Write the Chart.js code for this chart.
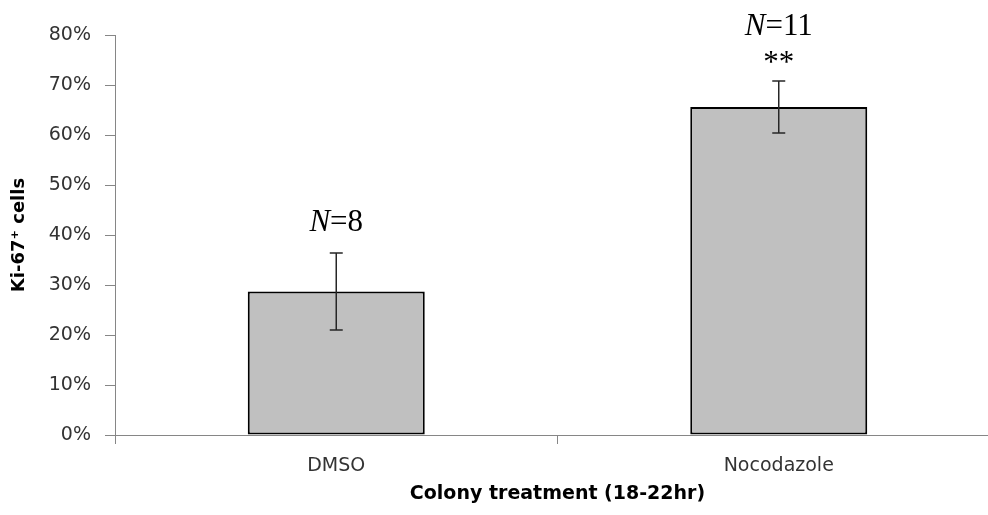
<!DOCTYPE html>
<html>
<head>
<meta charset="utf-8">
<script src="https://cdn.jsdelivr.net/npm/chart.js@4"></script>
<style>
    html, body { margin: 0; padding: 0; background: #fff; overflow: hidden; }
    #wrap { width: 1000px; height: 515px; }
</style>
</head>
<body>
<div id="wrap"><canvas id="kiChart"></canvas></div>
<script>
// Ki-67+ cells per colony treatment
const categorias = ['DMSO', 'Nocodazole'];
const medias = [28.7, 65.6];
const errores = [7.7, 5.2];
const nMuestras = ['8', '11'];
const signif = ['', '**'];
const ticksY = [0, 10, 20, 30, 40, 50, 60, 70, 80];

const ejeColor = '#868686';

// dibuja barras de error y las etiquetas N= / ** encima
const errorBarsPlugin = {
    id: 'errorBars',
    afterDatasetsDraw(chart) {
        const ctx = chart.ctx;
        const y = chart.scales.y;
        const meta = chart.getDatasetMeta(0);
        ctx.save();
        meta.data.forEach((bar, i) => {
            const x = bar.x;
            const yHi = y.getPixelForValue(medias[i] + errores[i]);
            const yLo = y.getPixelForValue(medias[i] - errores[i]);
            ctx.strokeStyle = '#262626';
            ctx.lineWidth = 1.5;
            ctx.beginPath();
            ctx.moveTo(x, yHi); ctx.lineTo(x, yLo);
            ctx.moveTo(x - 6.5, yHi); ctx.lineTo(x + 6.5, yHi);
            ctx.moveTo(x - 6.5, yLo); ctx.lineTo(x + 6.5, yLo);
            ctx.stroke();

            ctx.fillStyle = '#000';
            ctx.textBaseline = 'middle';
            let nY = yHi - 30;
            if (signif[i]) {
                ctx.font = '31px "Liberation Serif"';
                ctx.textAlign = 'center';
                ctx.fillText(signif[i], x, yHi - 17);
                nY = yHi - 54;
            }
            // "N" en cursiva, "=n" normal
            ctx.font = 'italic 31px "Liberation Serif"';
            const wN = ctx.measureText('N').width;
            ctx.font = '31px "Liberation Serif"';
            const resto = '=' + nMuestras[i];
            const wR = ctx.measureText(resto).width;
            const x0 = x - (wN + wR) / 2;
            ctx.textAlign = 'left';
            ctx.font = 'italic 31px "Liberation Serif"';
            ctx.fillText('N', x0, nY);
            ctx.font = '31px "Liberation Serif"';
            ctx.fillText(resto, x0 + wN, nY);
        });
        ctx.restore();
    }
};

const ctx = document.getElementById('kiChart').getContext('2d');
new Chart(ctx, {
    type: 'bar',
    data: {
        labels: categorias,
        datasets: [{
            data: medias,
            backgroundColor: '#c0c0c0',
            borderColor: '#000000',
            borderWidth: 2,
            borderSkipped: false,
            barPercentage: 0.4,
            categoryPercentage: 1.0
        }]
    },
    options: {
        responsive: true,
        maintainAspectRatio: false,
        animation: false,
        devicePixelRatio: 1,
        layout: { padding: { top: 35, right: 0, bottom: 0, left: 0 } },
        plugins: {
            legend: { display: false },
            tooltip: { enabled: false }
        },
        scales: {
            y: {
                min: 0,
                max: 80,
                afterFit(scale) { scale.width = 115; },
                afterBuildTicks(scale) { scale.ticks = ticksY.map(v => ({ value: v })); },
                ticks: {
                    padding: 14,
                    color: '#333333',
                    font: { family: 'DejaVu Sans', size: 19 },
                    callback: v => v + '%'
                },
                grid: {
                    drawOnChartArea: false,
                    drawTicks: true,
                    tickLength: 10,
                    color: ejeColor
                },
                border: { display: true, color: ejeColor, width: 1 },
                title: {
                    display: true,
                    text: 'Ki-67⁺ cells',
                    color: '#000',
                    padding: { top: 9, bottom: 0 },
                    font: { family: 'DejaVu Sans', size: 18, weight: 'bold' }
                }
            },
            x: {
                offset: true,
                afterFit(scale) { scale.height = 80; },
                ticks: {
                    padding: 11,
                    color: '#333333',
                    font: { family: 'DejaVu Sans', size: 19 }
                },
                grid: {
                    offset: true,
                    drawOnChartArea: false,
                    drawTicks: true,
                    tickLength: 9,
                    color: ejeColor
                },
                border: { display: true, color: ejeColor, width: 1 },
                title: {
                    display: true,
                    text: 'Colony treatment (18-22hr)',
                    color: '#000',
                    padding: { top: 0, bottom: 10 },
                    font: { family: 'DejaVu Sans', size: 19, weight: 'bold' }
                }
            }
        }
    },
    plugins: [errorBarsPlugin]
});
</script>
</body>
</html>
